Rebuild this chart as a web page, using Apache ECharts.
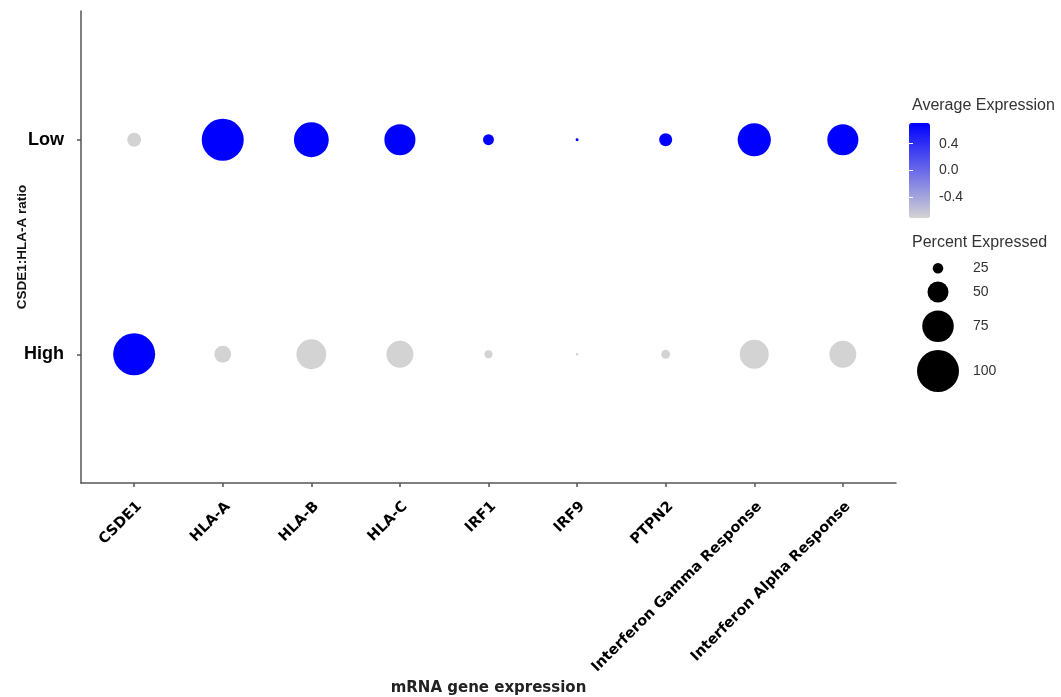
<!DOCTYPE html>
<html>
<head>
<meta charset="utf-8">
<title>CSDE1:HLA-A ratio dot plot</title>
<script src="https://cdn.jsdelivr.net/npm/echarts@6/dist/echarts.min.js"></script>
<style>
  html, body { margin: 0; padding: 0; background: #ffffff; }
  #chart { width: 1061px; height: 697px; }
</style>
</head>
<body>
<div id="chart"></div>
<script>
// Genes / gene-set scores on the x axis
const genes = ['CSDE1', 'HLA-A', 'HLA-B', 'HLA-C', 'IRF1', 'IRF9', 'PTPN2',
               'Interferon Gamma Response', 'Interferon Alpha Response'];
// Groups on the y axis (bottom to top)
const groups = ['High', 'Low'];

// Percent of cells expressing each gene, per group
const pctHigh = [100, 40, 71, 64, 19, 6, 21, 69, 64];
const pctLow  = [33, 100, 83, 74, 26, 7, 31, 79, 74];

// Scaled average expression, per group (two groups -> +/- 0.71)
const expHigh = [0.71, -0.71, -0.71, -0.71, -0.71, -0.71, -0.71, -0.71, -0.71];
const expLow  = [-0.71, 0.71, 0.71, 0.71, 0.71, 0.71, 0.71, 0.71, 0.71];

// Legend entries
const sizeBreaks = [25, 50, 75, 100];
const colorBreaks = [-0.4, 0.0, 0.4];

// Dot diameter (px) from percent expressed
const sizeOf = p => 0.42 * p;

const pctByGroup = { High: pctHigh, Low: pctLow };
const expByGroup = { High: expHigh, Low: expLow };

const points = [];
groups.forEach((g, gi) => {
  genes.forEach((gene, xi) => {
    points.push([xi + 1, gi + 1, pctByGroup[g][xi], expByGroup[g][xi]]);
  });
});

const allExp = expHigh.concat(expLow);
const expMin = Math.min(...allExp);
const expMax = Math.max(...allExp);

const geneTicks = genes.map((_, i) => i + 1);
const groupTicks = groups.map((_, i) => i + 1);

const axisGrey = '#555555';
const xFont = '"DejaVu Sans", Verdana, sans-serif';
const plainFont = '"Liberation Sans", Arial, sans-serif';

// Size legend keys, stacked from the top
const sizeLegend = [];
{
  let y = 259;
  sizeBreaks.forEach(b => {
    const d = sizeOf(b);
    const h = Math.max(d + 8, 17);
    const cy = y + h / 2;
    sizeLegend.push({
      type: 'circle',
      shape: { cx: 938, cy: cy, r: d / 2 },
      style: { fill: '#000000' }
    });
    sizeLegend.push({
      type: 'text',
      style: {
        text: String(b), x: 973, y: cy,
        fill: '#333333', font: '14px ' + plainFont,
        verticalAlign: 'middle', align: 'left'
      }
    });
    y += h;
  });
}

const chart = echarts.init(document.getElementById('chart'), null, { renderer: 'canvas' });

chart.setOption({
  backgroundColor: '#ffffff',
  animation: false,
  grid: [
    { left: 81, top: 11, right: 165, bottom: 214, containLabel: false, outerBoundsMode: 'none' },
    { left: 909, top: 123, width: 21, height: 95, containLabel: false, outerBoundsMode: 'none' }
  ],
  xAxis: [
    {
      type: 'value', gridIndex: 0, min: 0.4, max: genes.length + 0.6,
      name: 'mRNA gene expression', nameLocation: 'middle', nameGap: 198, nameMoveOverlap: false,
      nameTextStyle: { fontFamily: xFont, fontWeight: 'bold', fontSize: 15, color: '#222222' },
      axisLine: { show: true, onZero: false, lineStyle: { color: axisGrey, width: 1.5 } },
      axisTick: { show: true, customValues: geneTicks, length: 4, lineStyle: { color: axisGrey, width: 1.5 } },
      axisLabel: {
        show: true, customValues: geneTicks, rotate: 45, margin: 16,
        align: 'right', verticalAlign: 'top',
        formatter: v => genes[Math.round(v) - 1] || '',
        fontFamily: xFont, fontWeight: 'bold', fontSize: 14.5, color: '#000000'
      },
      splitLine: { show: false }
    },
    { type: 'value', gridIndex: 1, show: false, min: 0, max: 1 }
  ],
  yAxis: [
    {
      type: 'value', gridIndex: 0, min: 0.4, max: groups.length + 0.6,
      name: 'CSDE1:HLA-A ratio', nameLocation: 'middle', nameGap: 52, nameRotate: 90, nameMoveOverlap: false,
      nameTextStyle: { fontFamily: plainFont, fontWeight: 'bold', fontSize: 13.5, color: '#111111' },
      axisLine: { show: true, onZero: false, lineStyle: { color: axisGrey, width: 1.5 } },
      axisTick: { show: true, customValues: groupTicks, length: 4, lineStyle: { color: axisGrey, width: 1.5 } },
      axisLabel: {
        show: true, customValues: groupTicks, margin: 17,
        formatter: v => groups[Math.round(v) - 1] || '',
        fontFamily: plainFont, fontWeight: 'bold', fontSize: 18, color: '#000000'
      },
      splitLine: { show: false }
    },
    {
      type: 'value', gridIndex: 1, position: 'right', min: expMin, max: expMax, z: 10,
      axisLine: { show: false },
      axisTick: { show: true, inside: true, customValues: colorBreaks, length: 4, lineStyle: { color: '#ffffff', width: 1 } },
      axisLabel: {
        show: true, customValues: colorBreaks, margin: 9,
        formatter: v => v.toFixed(1),
        fontFamily: plainFont, fontSize: 14, color: '#333333'
      },
      splitLine: { show: false }
    },
    {
      type: 'value', gridIndex: 1, position: 'left', min: expMin, max: expMax, z: 10,
      axisLine: { show: false },
      axisTick: { show: true, inside: true, customValues: colorBreaks, length: 4, lineStyle: { color: '#ffffff', width: 1 } },
      axisLabel: { show: false },
      splitLine: { show: false }
    }
  ],
  visualMap: {
    type: 'continuous',
    seriesIndex: 0,
    dimension: 3,
    min: expMin,
    max: expMax,
    orient: 'vertical',
    left: 909,
    top: 123,
    padding: 0,
    itemWidth: 21,
    itemHeight: 95,
    text: null,
    calculable: false,
    hoverLink: false,
    realtime: false,
    inRange: { color: ['#D3D3D3', '#0000FF'] }
  },
  series: [
    {
      type: 'scatter',
      xAxisIndex: 0,
      yAxisIndex: 0,
      data: points,
      symbol: 'circle',
      symbolSize: val => sizeOf(val[2]),
      itemStyle: { opacity: 1 }
    }
  ],
  graphic: [
    {
      type: 'text',
      style: {
        text: 'Average Expression', x: 912, y: 106,
        fill: '#333333', font: '16px ' + plainFont,
        verticalAlign: 'middle', align: 'left'
      }
    },
    {
      type: 'text',
      style: {
        text: 'Percent Expressed', x: 912, y: 243,
        fill: '#333333', font: '16px ' + plainFont,
        verticalAlign: 'middle', align: 'left'
      }
    }
  ].concat(sizeLegend)
});
</script>
</body>
</html>
